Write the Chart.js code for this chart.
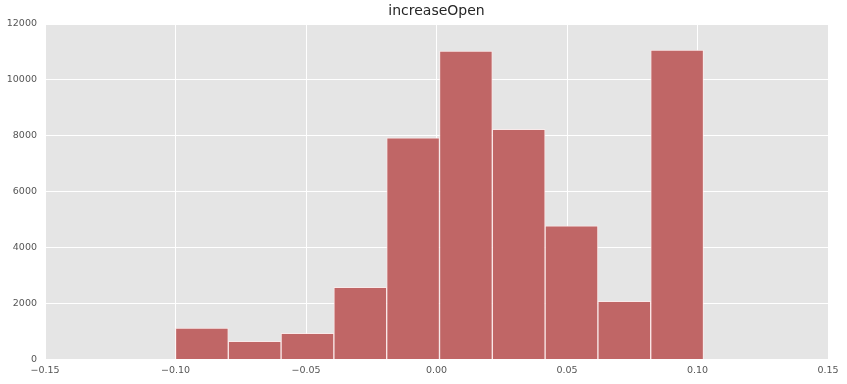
<!DOCTYPE html>
<html>
<head>
<meta charset="utf-8">
<script src="https://cdn.jsdelivr.net/npm/chart.js@4/dist/chart.umd.min.js"></script>
<style>
html,body{margin:0;padding:0;background:#fff;}
#wrap{width:847px;height:384px;}
</style>
</head>
<body>
<div id="wrap"><canvas id="c" width="847" height="384"></canvas></div>
<script>
const chartTitle = "increaseOpen";
const binCenters = [-0.08989, -0.06966, -0.04943, -0.02920, -0.00897, 0.01127, 0.03150, 0.05173, 0.07196, 0.09219];
const counts = [1120, 650, 940, 2580, 7930, 11030, 8230, 4780, 2080, 11070];
const xTicks = [-0.15, -0.10, -0.05, 0.00, 0.05, 0.10, 0.15];
const yTicks = [0, 2000, 4000, 6000, 8000, 10000, 12000];

const bgPlugin = {
  id: 'plotBg',
  beforeDraw(chart) {
    const a = chart.chartArea, ctx = chart.ctx;
    ctx.save();
    ctx.fillStyle = '#e5e5e5';
    ctx.fillRect(a.left, a.top, a.right - a.left, a.bottom - a.top);
    ctx.restore();
  }
};

const fmt = v => {
  const s = Math.abs(v) < 1e-9 ? '0.00' : Number(v).toFixed(2);
  return s.replace('-', '\u2212');
};

new Chart(document.getElementById('c'), {
  type: 'bar',
  data: {
    datasets: [{
      data: binCenters.map((x, i) => ({x: x, y: counts[i]})),
      backgroundColor: 'rgb(192,102,102)',
      borderColor: 'rgba(255,235,235,0.75)',
      borderWidth: 1,
      barPercentage: 1.0,
      categoryPercentage: 1.0,
      grouped: false
    }]
  },
  options: {
    responsive: false,
    animation: false,
    devicePixelRatio: 1,
    layout: {padding: {left: 0, right: 19, top: 0, bottom: 0}},
    plugins: {
      legend: {display: false},
      tooltip: {enabled: false},
      title: {
        display: true,
        text: chartTitle,
        fullSize: false,
        color: '#262626',
        font: {family: 'DejaVu Sans', size: 14, weight: 'normal', lineHeight: 1.2},
        padding: {top: 3, bottom: 4.2}
      }
    },
    scales: {
      x: {
        type: 'linear',
        min: -0.15,
        max: 0.15,
        offset: false,
        afterBuildTicks: s => { s.ticks = xTicks.map(v => ({value: v})); },
        afterFit: s => { s.height = 24.5; },
        border: {display: false},
        grid: {color: '#ffffff', lineWidth: 1, drawTicks: false, offset: false},
        ticks: {
          color: '#555555',
          font: {family: 'DejaVu Sans', size: 9.5},
          padding: 5,
          maxRotation: 0,
          autoSkip: false,
          callback: v => fmt(v)
        }
      },
      y: {
        min: 0,
        max: 12000,
        afterBuildTicks: s => { s.ticks = yTicks.map(v => ({value: v})); },
        afterFit: s => { s.width = 45; },
        border: {display: false},
        grid: {color: '#ffffff', lineWidth: 1, drawTicks: false},
        ticks: {
          color: '#555555',
          font: {family: 'DejaVu Sans', size: 9.5},
          padding: 8,
          autoSkip: false,
          callback: v => String(v)
        }
      }
    }
  },
  plugins: [bgPlugin]
});
</script>
</body>
</html>
